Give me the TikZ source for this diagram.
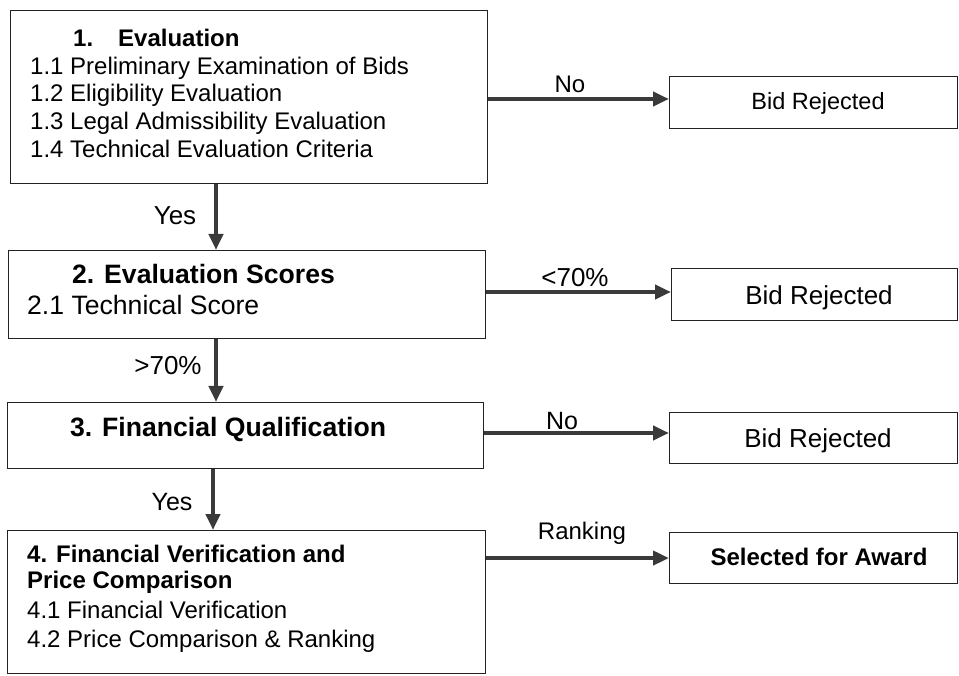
\documentclass[tikz,border=0pt]{standalone}
\usepackage{fontspec}
\setmainfont{Liberation Sans}
\usetikzlibrary{arrows.meta}
\definecolor{arrgray}{HTML}{3A3A3A}
\definecolor{edge}{HTML}{222222}
\begin{document}
\begin{tikzpicture}[x=1pt,y=-1pt,
  box/.style={draw=edge, line width=1.1pt, anchor=north west, inner sep=0pt},
  txt/.style={inner sep=0pt, anchor=base west, font=\fontsize{24}{28}\selectfont},
  txtb/.style={txt, font=\fontsize{26.6}{30}\selectfont},
  lab/.style={inner sep=0pt, anchor=base, font=\fontsize{25}{28}\selectfont},
  arr/.style={draw=arrgray, line width=4.5pt, -{Triangle[length=16pt,width=14pt]}}
]
\useasboundingbox (0,0) rectangle (959,676);

% left boxes
\node[box, minimum width=477pt, minimum height=173pt] (b1) at (10,10) {};
\node[box, minimum width=477pt, minimum height=88pt]  (b2) at (8,250) {};
\node[box, minimum width=476pt, minimum height=66pt]  (b3) at (7,402) {};
\node[box, minimum width=478pt, minimum height=143pt] (b4) at (7,530) {};

% right boxes
\node[box, minimum width=288pt, minimum height=52pt] (r1) at (669,76) {};
\node[box, minimum width=286pt, minimum height=52pt] (r2) at (671,268) {};
\node[box, minimum width=288pt, minimum height=51pt] (r3) at (669,412) {};
\node[box, minimum width=288pt, minimum height=51pt] (r4) at (669,532) {};

% box 1 text
\node[txt] (t10) at (73,47) {\bfseries 1.\hspace{25pt}Evaluation};
\node[txt] (t11) at (30,75) {1.1 Preliminary Examination of Bids};
\node[txt] (t12) at (30,102) {1.2 Eligibility Evaluation};
\node[txt] (t13) at (30,130) {1.3 Legal Admissibility Evaluation};
\node[txt] (t14) at (30,158) {1.4 Technical Evaluation Criteria};

% box 2 text
\node[txtb] (t20) at (72,284) {\bfseries 2. Evaluation Scores};
\node[txtb] (t21) at (27,315) {2.1 Technical Score};

% box 3 text
\node[txtb] (t30) at (70,436) {\bfseries 3. Financial Qualification};

% box 4 text
\node[txt] (t40) at (27,562) {\bfseries 4. Financial Verification and};
\node[txt] (t41) at (27,588) {\bfseries Price Comparison};
\node[txt] (t42) at (27,618) {4.1 Financial Verification};
\node[txt] (t43) at (27,647) {4.2 Price Comparison \& Ranking};

% right box texts
\node[lab, font=\fontsize{23.5}{28}\selectfont] (tr1) at (818,110) {Bid Rejected};
\node[lab, font=\fontsize{26}{30}\selectfont] (tr2) at (819,305) {Bid Rejected};
\node[lab, font=\fontsize{26}{30}\selectfont] (tr3) at (818,447) {Bid Rejected};
\node[lab, font=\fontsize{24}{28}\selectfont\bfseries] (tr4) at (819,565) {Selected for Award};

% connector helper coordinates
\coordinate (y1) at (0,99);
\coordinate (y2) at (0,292);
\coordinate (y3) at (0,433);
\coordinate (xa) at (216,0);
\coordinate (xb) at (213,0);

% horizontal arrows
\draw[arr] (b1.east |- y1) -- (r1.west |- y1);
\draw[arr] (b2.east |- y2) -- (r2.west |- y2);
\draw[arr] (b3.east |- y3) -- (r3.west |- y3);
\draw[arr] (b4.east |- r4.west) -- (r4.west);

% vertical arrows
\draw[arr] (b1.south -| xa) -- (b2.north -| xa);
\draw[arr] (b2.south -| xa) -- (b3.north -| xa);
\draw[arr] (b3.south -| xb) -- (b4.north -| xb);

% labels
\node[lab, font=\fontsize{24}{28}\selectfont] (l1) at (570,93) {No};
\node[lab, font=\fontsize{26}{30}\selectfont] (l2) at (575,287) {<70\%};
\node[lab] (l3) at (562,429) {No};
\node[lab, font=\fontsize{24}{28}\selectfont] (l4) at (582,539) {Ranking};
\node[lab, font=\fontsize{26}{30}\selectfont] (l5) at (175,225) {Yes};
\node[lab, font=\fontsize{26}{30}\selectfont] (l6) at (168,375) {>70\%};
\node[lab] (l7) at (172,510) {Yes};
\end{tikzpicture}
\end{document}
